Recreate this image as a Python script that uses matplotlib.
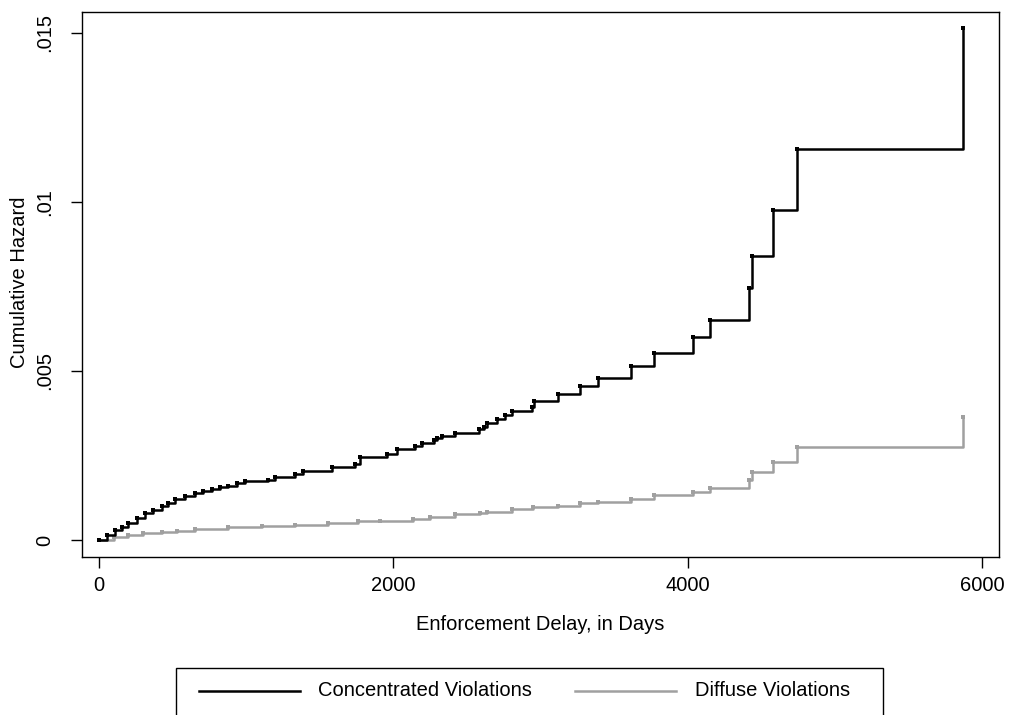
import matplotlib
matplotlib.use("Agg")
import matplotlib.pyplot as plt
from matplotlib.patches import Rectangle
from matplotlib.lines import Line2D

plt.rcParams['font.family'] = ['Liberation Sans', 'DejaVu Sans']

# Step-function data (time in days, cumulative hazard)
conc_t = [0, 52, 109, 154, 199, 256, 313, 369, 426, 471, 516, 584, 652, 709, 766,
          822, 878, 935, 992, 1150, 1196, 1332, 1388, 1581, 1739, 1773, 1954, 2024,
          2149, 2194, 2273, 2296, 2330, 2420, 2579, 2613, 2636, 2704, 2760, 2806,
          2942, 2953, 3122, 3270, 3394, 3613, 3771, 4037, 4155, 4416, 4438, 4581,
          4740, 5870]
conc_h = [0.0, 0.000148, 0.000296, 0.000394, 0.000494, 0.000642, 0.00079, 0.000888,
          0.001006, 0.001104, 0.001204, 0.001302, 0.001382, 0.00145, 0.0015,
          0.001559, 0.001598, 0.001677, 0.001754, 0.001775, 0.001855, 0.001953,
          0.002041, 0.002151, 0.002249, 0.002447, 0.002544, 0.002683, 0.00278,
          0.002861, 0.002959, 0.003009, 0.003086, 0.003175, 0.00328, 0.003352,
          0.00347, 0.003571, 0.003689, 0.003825, 0.00393, 0.004121, 0.00432,
          0.004556, 0.004784, 0.005148, 0.005541, 0.005997, 0.0065, 0.007447,
          0.008393, 0.009763, 0.011568, 0.01515]

diff_t = [0, 100, 199, 300, 426, 530, 652, 878, 1105, 1332, 1558, 1762, 1909, 2135,
          2249, 2418, 2588, 2634, 2804, 2950, 3120, 3268, 3392, 3612, 3770, 4037,
          4155, 4416, 4438, 4581, 4740, 5870]
diff_h = [0.0, 0.00008, 0.000148, 0.000198, 0.000246, 0.00028, 0.000317, 0.000376,
          0.000414, 0.000453, 0.000494, 0.000553, 0.000571, 0.000621, 0.000689,
          0.00076, 0.00079, 0.000837, 0.000908, 0.000967, 0.001015, 0.001086,
          0.001133, 0.001213, 0.001322, 0.001429, 0.001547, 0.001775, 0.00202,
          0.002317, 0.00276, 0.00364]

series_labels = ["Concentrated Violations", "Diffuse Violations"]
xticks = [0, 2000, 4000, 6000]
xtick_labels = ["0", "2000", "4000", "6000"]
yticks = [0, 0.005, 0.01, 0.015]
ytick_labels = ["0", ".005", ".01", ".015"]

W, H = 1013, 715
fig = plt.figure(figsize=(W / 100, H / 100), dpi=100)
ax = fig.add_axes([82 / W, (H - 557) / H, 917 / W, 545 / H])

black = "#000000"
gray = "#a0a0a0"
lw = 1.8

ax.plot(diff_t, diff_h, drawstyle='steps-post', color=gray, lw=lw, zorder=3)
ax.plot(conc_t, conc_h, drawstyle='steps-post', color=black, lw=lw, zorder=4)
# small dots at the step points
ax.plot(diff_t, diff_h, 's', color=gray, ms=2.2, mew=0, zorder=3)
ax.plot(conc_t, conc_h, 's', color=black, ms=2.6, mew=0, zorder=4)

ax.set_xlim(-115.5, 6115.4)
ax.set_ylim(-0.000503, 0.015621)

ax.set_xticks(xticks)
ax.set_xticklabels(xtick_labels)
ax.set_yticks(yticks)
ax.set_yticklabels(ytick_labels, rotation=90, va='center')

for s in ax.spines.values():
    s.set_linewidth(1.0)
    s.set_color('black')

ax.tick_params(axis='both', direction='out', length=8, width=1.0, labelsize=14.5,
               colors='black')
ax.tick_params(axis='x', pad=6)
ax.tick_params(axis='y', pad=12)

ax.set_xlabel("Enforcement Delay, in Days", fontsize=14.5, labelpad=14)
ax.set_ylabel("Cumulative Hazard", fontsize=14.5)
ax.yaxis.set_label_coords((29 - 82) / 917, (557 - 282) / 545)

# Legend drawn in pixel-based figure coordinates (box clipped at bottom edge)
def fx(px):
    return px / W

def fy(py):
    return (H - py) / H

rect = Rectangle((fx(176), fy(717)), fx(883) - fx(176), fy(668) - fy(717),
                 transform=fig.transFigure, fill=False, edgecolor='black', lw=1.0)
fig.patches.append(rect)
ly = fy(691)
fig.lines.append(Line2D([fx(199), fx(300)], [ly, ly], transform=fig.transFigure,
                        color=black, lw=lw))
fig.text(fx(318), ly, series_labels[0], fontsize=14.5, va='center', ha='left')
fig.lines.append(Line2D([fx(575), fx(676)], [ly, ly], transform=fig.transFigure,
                        color=gray, lw=lw))
fig.text(fx(695), ly, series_labels[1], fontsize=14.5, va='center', ha='left')

fig.savefig("out.png", dpi=100)
